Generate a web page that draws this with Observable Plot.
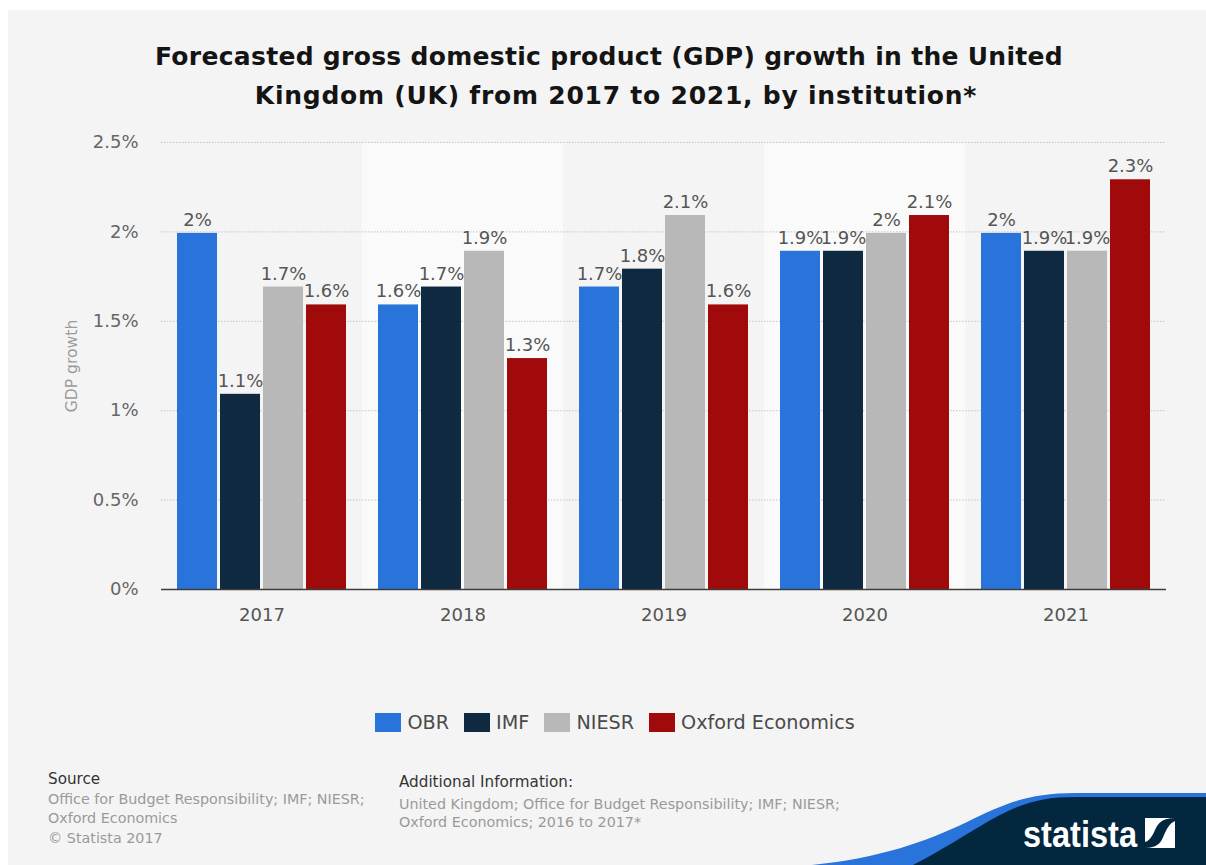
<!DOCTYPE html>
<html>
<head>
<meta charset="utf-8">
<script src="https://cdn.jsdelivr.net/npm/d3@7"></script>
<script src="https://cdn.jsdelivr.net/npm/@observablehq/plot@0.6"></script>
<style>
  html, body { margin: 0; padding: 0; background: #fff; }
  body { width: 1206px; height: 865px; overflow: hidden; position: relative; font-family: "DejaVu Sans", sans-serif; }
  #card { position: absolute; left: 8px; top: 10px; width: 1198px; height: 855px; background: #f4f4f4; }
  #title { position: absolute; left: 8px; width: 1202px; top: 38px; text-align: center; font-weight: 700; font-size: 25px; line-height: 38.5px; color: #141414; letter-spacing: 0.3px; }
  #title span { letter-spacing: 0.76px; position: relative; left: 7px; }
  #chart { position: absolute; left: 0; top: 120px; }
  #chart svg { background: transparent; }
  #legend { position: absolute; top: 709px; left: 375px; height: 26px; display: flex; align-items: center; font-size: 19.2px; color: #4a4a4a; white-space: nowrap; }
  #legend .key { width: 26px; height: 19px; margin-right: 6.5px; }
  #legend .entry { display: flex; align-items: center; margin-right: 14.5px; }
  .note { position: absolute; font-size: 14.3px; line-height: 19.5px; color: #9a9a9a; white-space: nowrap; }
  .note b { font-weight: 400; color: #333; display: block; font-size: 15.2px; }
  #brand { position: absolute; left: 0; top: 0; pointer-events: none; }
</style>
</head>
<body>
<div id="card"></div>
<div id="title">Forecasted gross domestic product (GDP) growth in the United<br><span>Kingdom (UK) from 2017 to 2021, by institution*</span></div>
<div id="chart"></div>
<div id="legend"></div>
<div class="note" style="left:48px;top:770px"><b>Source</b>Office for Budget Responsibility; IMF; NIESR;<br>Oxford Economics<br>© Statista 2017</div>
<div class="note" style="left:399px;top:773px;line-height:18.5px"><b style="margin-bottom:3px">Additional Information:</b>United Kingdom; Office for Budget Responsibility; IMF; NIESR;<br>Oxford Economics; 2016 to 2017*</div>
<svg id="brand" width="1206" height="865" viewBox="0 0 1206 865">
  <path fill="#2874db" d="M812 865 C880 858 925 842 967 822 C1000 806 1025 793 1075 793 L1206 793 L1206 865 Z"/>
  <path fill="#03273f" d="M913 865 C950 846 975 828 1000 815 C1025 802 1045 797 1075 797 L1206 797 L1206 865 Z"/>
  <text x="1023" y="847" textLength="114" lengthAdjust="spacingAndGlyphs" font-family="'Liberation Sans', sans-serif" font-weight="700" font-size="37" fill="#fff">statista</text>
  <path fill="#fff" d="M1145 818 H1175 C1162 818 1158 823 1155 830 C1152 837 1149 841 1145 842 Z"/>
  <path fill="#fff" d="M1175 821 V848 H1145 C1157 848 1161 843 1164 835 C1167 828 1170 823 1175 821 Z"/>
</svg>
<script>
// Growth forecasts in percent, one list per institution, ordered as the years.
const years = ["2017", "2018", "2019", "2020", "2021"];
const institutions = ["OBR", "IMF", "NIESR", "Oxford Economics"];
const obr = [2, 1.6, 1.7, 1.9, 2];
const imf = [1.1, 1.7, 1.8, 1.9, 1.9];
const niesr = [1.7, 1.9, 2.1, 2, 1.9];
const oxford = [1.6, 1.3, 1.6, 2.1, 2.3];
const colors = ["#2874db", "#0f2a40", "#b8b8b8", "#a10a0a"];
const shadedYears = ["2018", "2020"];
const yTicks = [0, 0.5, 1, 1.5, 2, 2.5];

const seriesValues = [obr, imf, niesr, oxford];
const rows = institutions.flatMap((institution, i) =>
  years.map((year, j) => ({year, institution, value: seriesValues[i][j]}))
);

const font = "'DejaVu Sans', sans-serif";

const chart = Plot.plot({
  width: 1206,
  height: 530,
  marginLeft: 161,
  marginRight: 40,
  marginTop: 22,
  marginBottom: 61,
  style: {fontFamily: font, background: "transparent", overflow: "visible"},
  fx: {domain: years, padding: 0, label: null},
  x: {domain: institutions, paddingInner: 0.06, paddingOuter: 0.367, axis: null},
  y: {domain: [0, 2.5], label: null},
  color: {domain: institutions, range: colors},
  marks: [
    Plot.rect(shadedYears, {fx: (d) => d, fill: "#fafafa"}),
    Plot.ruleY(yTicks.slice(1), {stroke: "#c4c4c4", strokeDasharray: "1.5,1.5"}),
    Plot.barY(rows, {fx: "year", x: "institution", y: "value", fill: "institution", insetTop: 1.5}),
    Plot.ruleY([0], {stroke: "#3c3c3c", strokeWidth: 1.5}),
    Plot.text(rows, {
      fx: "year", x: "institution", y: "value",
      text: (d) => `${d.value}%`,
      lineAnchor: "bottom", dy: -6,
      fontSize: 18, fill: "#555"
    }),
    Plot.axisY({
      ticks: yTicks, tickSize: 0, tickPadding: 23, label: null,
      tickFormat: (d) => `${d}%`, fontSize: 18, color: "#666"
    }),
    Plot.axisY({
      ticks: [], label: "GDP growth", labelAnchor: "center", labelArrow: "none",
      labelOffset: 96, fontSize: 15.6, color: "#9c9c9c"
    }),
    Plot.axisFx({anchor: "bottom", tickSize: 0, tickPadding: 19, label: null, fontSize: 18, color: "#555"})
  ]
});
document.getElementById("chart").append(chart);

// Legend keys share the colour list with the bars.
const legend = d3.select("#legend");
institutions.forEach((name, i) => {
  const entry = legend.append("div").attr("class", "entry");
  entry.append("div").attr("class", "key").style("background", colors[i]);
  entry.append("span").text(name);
});
</script>
</body>
</html>
